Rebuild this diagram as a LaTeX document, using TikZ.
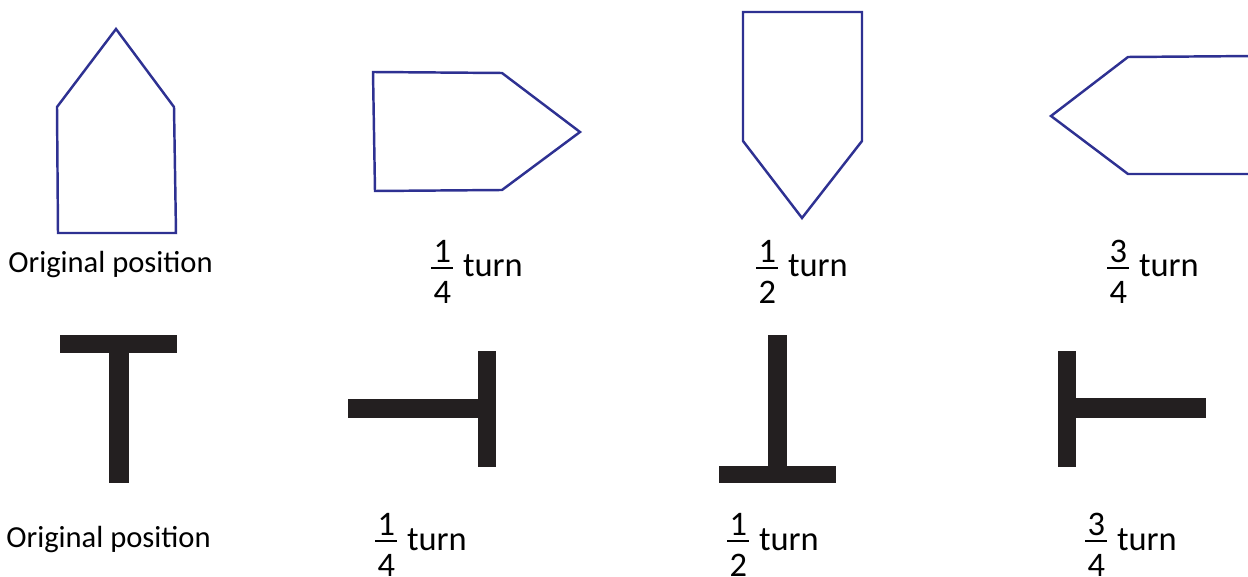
\documentclass[tikz,border=0pt]{standalone}
\usepackage{fontspec}
\setmainfont{Carlito}
\usepackage{amsmath}
\usepackage{tikz}
\definecolor{shpBlue}{RGB}{46,49,146}
\definecolor{shpInk}{RGB}{35,31,32}
\newcommand{\qfrac}[2]{\ensuremath{\genfrac{}{}{1.1pt}{1}{\mbox{\kern1.2pt#1\kern1.2pt}}{\mbox{\kern1.2pt\raisebox{-8pt}{#2}\kern1.2pt}}}}

\begin{document}
\begin{tikzpicture}[x=0.02cm, y=-0.02cm,
  penta/.style={draw=shpBlue, line width=1.4pt},
  tbar/.style={fill=shpInk},
  lbl/.style={anchor=base west, inner sep=0pt, font=\fontsize{19.6}{23}\selectfont},
  orig/.style={anchor=base west, inner sep=0pt, font=\fontsize{17.4}{21}\selectfont}]
  \useasboundingbox (0,0) rectangle (1248,577);
  \clip (0,0) rectangle (1248,577);

  \draw[penta] (57,107) -- (116,29) -- (174,107) -- (176,233) -- (58,233) -- cycle;
  \draw[penta] (373,72) -- (502,73) -- (580,132) -- (502,190) -- (375,191) -- cycle;
  \draw[penta] (743,12) -- (862,12) -- (862,141) -- (802,218) -- (743,141) -- cycle;
  \draw[penta] (1051,116) -- (1128,57) -- (1256,56) -- (1256,174) -- (1128,174) -- cycle;

  \node[orig] (origtop) at (8,273) {Original position};
  \node[lbl] (quartertop) at (429,277) {\qfrac{1}{4} turn};
  \node[lbl] (halftop) at (754,277) {\qfrac{1}{2} turn};
  \node[lbl] (threetop) at (1105,277) {\qfrac{3}{4} turn};

  \fill[tbar] (60,335) rectangle (177,353);
  \fill[tbar] (109,353) rectangle (129,483);
  \fill[tbar] (478,351) rectangle (496,467);
  \fill[tbar] (348,399) rectangle (478,418);
  \fill[tbar] (768,335) rectangle (787,466);
  \fill[tbar] (719,466) rectangle (836,483);
  \fill[tbar] (1058,351) rectangle (1076,467);
  \fill[tbar] (1076,398) rectangle (1206,418);

  \node[orig] (origbot) at (6,547) {Original position};
  \node[lbl] (quarterbot) at (373,550) {\qfrac{1}{4} turn};
  \node[lbl] (halfbot) at (725,550) {\qfrac{1}{2} turn};
  \node[lbl] (threebot) at (1083,550) {\qfrac{3}{4} turn};
\end{tikzpicture}
\end{document}
